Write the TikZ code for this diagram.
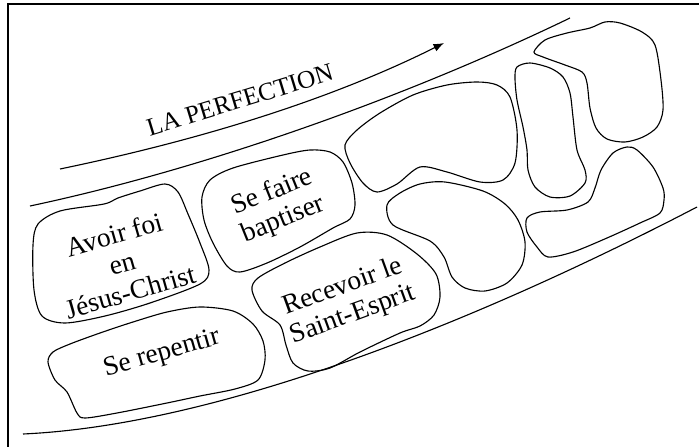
\documentclass[tikz,border=0pt]{standalone}
\usepackage{fontspec}
\setmainfont{Liberation Serif}
\usepackage{tikz}
\usetikzlibrary{arrows.meta,calc,positioning}
\tikzset{
blobline/.style={
  line width=0.8pt,
  draw=black,
  line join=round,
  }
}
\tikzset{
pathline/.style={
  line width=0.8pt,
  }
}
\tikzset{
blobtext/.style={
  align=center,
  inner sep=0pt,
  font=\fontsize{19.5}{21}\selectfont,
  }
}
\tikzset{
myarrow/.style={
  line width=0.8pt,
  -{Latex[length=2.6mm,width=2mm]}
  }
}

\begin{document}
\begin{tikzpicture}[x=0.025cm,y=-0.025cm]
    \useasboundingbox (0,0) rectangle (699,447);
    % frame
    \draw[line width=1.2pt] (8,447) -- (8,4) -- (699,4);

    % path part
    \coordinate (arrstart) at (60,169);
    \coordinate (arrend) at (444,43);
    \coordinate (topstart) at (30,206);
    \coordinate (topend) at (570,18);
    \coordinate (botstart) at (23,434);
    \coordinate (botend) at (697,207);
    \draw[myarrow] (arrstart) .. controls (200,140) and (330,100) .. (arrend);
    \draw[pathline] (topstart) .. controls (200,170) and (400,100) .. (topend);
    \draw[pathline] (botstart) .. controls (220,425) and (480,320) .. (botend);
    \node[blobtext, font=\fontsize{18}{20}\selectfont, rotate=17] (perfection) at (240,100) {LA PERFECTION};

    % first steps
    \draw[blobline] plot[smooth cycle] coordinates {(33,245) (34,290) (42,316) (65,323) (105,316) (150,303) (200,284) (209,270) (200,243) (188,214) (178,192) (165,184) (140,191) (118,198) (104,204) (60,211) (38,224)};
    \node[blobtext, rotate=16] (faith) at (122,263) {Avoir foi\\en\\Jésus-Christ};

    \draw[blobline] plot[smooth cycle] coordinates {(48,362) (55,380) (67,392) (77,413) (85,418) (117,413) (167,403) (200,396) (235,389) (258,380) (265,360) (263,341) (253,324) (233,311) (200,307) (167,312) (133,322) (100,333) (70,344) (53,352)};
    \node[blobtext, rotate=16] (repent) at (162,354) {Se repentir};

    \draw[blobline] plot[smooth cycle] coordinates {(202,197) (204,220) (213,243) (227,266) (240,272) (267,263) (300,247) (333,228) (350,219) (355,205) (352,183) (343,162) (330,152) (310,150) (283,155) (233,168) (210,180)};
    \node[blobtext, rotate=22] (baptism) at (278,206) {Se faire\\baptiser};

    \draw[blobline] plot[smooth cycle] coordinates {(252,290) (262,311) (280,325) (286,345) (293,363) (308,371) (330,368) (360,352) (400,333) (420,326) (434,315) (440,297) (436,274) (417,254) (387,235) (357,233) (320,247) (285,263) (258,278)};
    \node[blobtext, rotate=20] (spirit) at (348,301) {Recevoir le\\Saint-Esprit};

    % empty steps
    \draw[blobline] plot[smooth cycle] coordinates {(387,205) (400,193) (420,184) (445,182) (483,191) (505,204) (518,220) (525,242) (522,265) (507,283) (485,291) (465,288) (452,277) (444,257) (430,241) (393,225)};
    \draw[blobline] plot[smooth cycle] coordinates {(345,145) (350,163) (363,183) (377,192) (397,184) (420,167) (447,172) (480,182) (503,180) (515,163) (517,130) (510,97) (497,85) (477,82) (447,85) (413,95) (380,113) (357,130)};
    \draw[blobline] plot[smooth cycle] coordinates {(517,67) (530,63) (550,68) (563,77) (570,93) (573,117) (577,150) (585,170) (585,183) (570,196) (550,197) (535,187) (528,170) (527,150) (523,127) (517,100) (515,78)};
    \draw[blobline] plot[smooth cycle] coordinates {(534,52) (545,40) (567,33) (590,28) (605,22) (620,23) (642,32) (655,45) (661,80) (663,110) (657,127) (643,137) (625,142) (607,139) (596,128) (590,108) (587,83) (582,72) (565,65) (543,57)};
    \draw[blobline] plot[smooth cycle] coordinates {(527,218) (527,232) (537,247) (548,257) (573,252) (607,238) (640,223) (660,213) (664,200) (663,188) (653,167) (637,150) (627,147) (613,153) (601,170) (595,188) (588,202) (567,210) (540,212)};
\end{tikzpicture}
\end{document}
